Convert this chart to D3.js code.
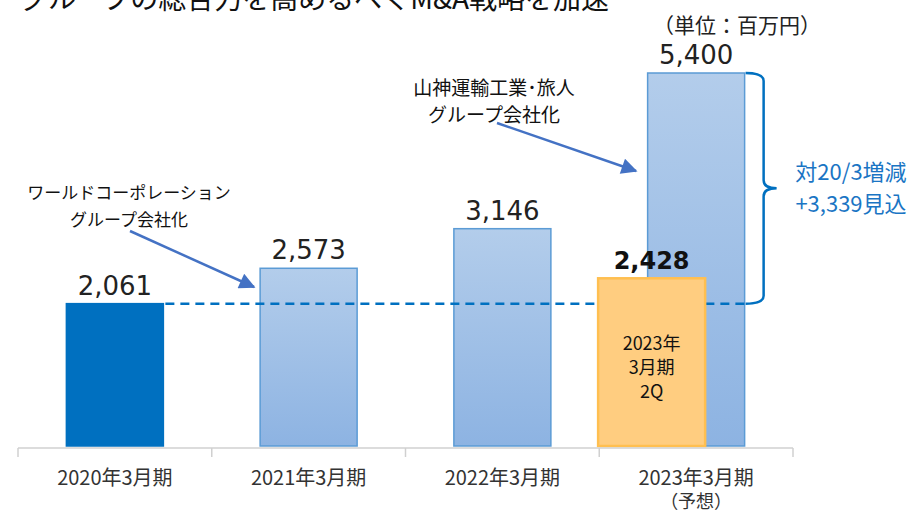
<!DOCTYPE html>
<html>
<head>
<meta charset="utf-8">
<script src="https://cdn.jsdelivr.net/npm/d3@7"></script>
<style>
  body { margin: 0; background: #fff; }
  svg { display: block; font-family: "Noto Sans CJK JP", sans-serif; }
</style>
</head>
<body>
<div id="chart"></div>
<script>
// data
var categories = ["2020年3月期", "2021年3月期", "2022年3月期", "2023年3月期"];
var subLabels = ["", "", "", "（予想）"];
var values = [2061, 2573, 3146, 5400];
var midValue = 2428;              // 2023年3月期 2Q actual
var midLines = ["2023年", "3月期", "2Q"];
var baseValue = 2061;             // reference line (20/3)
var diffLines = ["対20/3増減", "+3,339見込"];

function init() {
    var w = 924;
    var h = 514;

    var svg = d3.select("#chart")
                .append("svg")
                .attr("width", w)
                .attr("height", h);

    var defs = svg.append("defs");
    var grad = defs.append("linearGradient")
                .attr("id", "lightBlue")
                .attr("x1", 0).attr("y1", 0).attr("x2", 0).attr("y2", 1);
    grad.append("stop").attr("offset", "0%").attr("stop-color", "#B3CDEB");
    grad.append("stop").attr("offset", "100%").attr("stop-color", "#8DB3E2");

    defs.append("marker")
        .attr("id", "arrow")
        .attr("viewBox", "0 0 10 10")
        .attr("refX", 9).attr("refY", 5)
        .attr("markerUnits", "userSpaceOnUse")
        .attr("orient", "auto")
        .attr("markerWidth", 20).attr("markerHeight", 16)
        .append("path")
        .attr("d", "M0,0 L10,5 L0,10 Z")
        .attr("fill", "#4472C4");

    // scales
    var x = d3.scaleBand()
                .domain(categories)
                .range([18, 793])
                .paddingInner(0)
                .paddingOuter(0);

    var y = d3.scaleLinear()
                .domain([0, 5400])
                .range([446, 73]);

    var barW = 97;

    // title (cut at top edge)
    svg.append("text")
        .attr("x", 20)
        .attr("y", 9)
        .style("font-size", "28px")
        .style("fill", "#111")
        .text("グループの総合力を高めるべくM&A戦略を加速");

    // unit
    svg.append("text")
        .attr("x", 737)
        .attr("y", 33)
        .attr("text-anchor", "middle")
        .style("font-size", "21px")
        .style("fill", "#222")
        .text("（単位：百万円）");

    // bars
    svg.selectAll("rect.bar")
        .data(values)
        .enter()
        .append("rect")
        .attr("class", "bar")
        .attr("x", function(d, i) { return x(categories[i]) + x.bandwidth() / 2 - barW / 2; })
        .attr("y", function(d) { return y(d); })
        .attr("width", barW)
        .attr("height", function(d) { return y(0) - y(d); })
        .style("fill", function(d, i) { return i === 0 ? "#0070C0" : "url(#lightBlue)"; })
        .style("stroke", function(d, i) { return i === 0 ? "#0070C0" : "#5B9BD5"; })
        .style("stroke-width", 1.5);

    // value labels
    svg.selectAll("text.val")
        .data(values)
        .enter()
        .append("text")
        .attr("class", "val")
        .attr("x", function(d, i) { return x(categories[i]) + x.bandwidth() / 2; })
        .attr("y", function(d) { return y(d) - 9; })
        .attr("text-anchor", "middle")
        .style("font-family", "'DejaVu Sans', sans-serif")
        .style("font-size", "26px")
        .style("fill", "#222")
        .text(function(d) { return d3.format(",")(d); });

    // dashed reference line
    var last = categories[3];
    svg.append("line")
        .attr("x1", x(categories[0]) + x.bandwidth() / 2 + barW / 2 + 2)
        .attr("x2", x(last) + x.bandwidth() / 2 + barW / 2)
        .attr("y1", y(baseValue))
        .attr("y2", y(baseValue))
        .style("stroke", "#0070C0")
        .style("stroke-width", 2.5)
        .style("stroke-dasharray", "9,6");

    // orange 2Q bar
    var mx = x(last) + x.bandwidth() / 2 - 98;
    var mW = 107;
    svg.append("rect")
        .attr("x", mx)
        .attr("y", y(midValue))
        .attr("width", mW)
        .attr("height", y(0) - y(midValue))
        .style("fill", "#FFCD80")
        .style("stroke", "#FFBF50")
        .style("stroke-width", 2.5);

    svg.append("text")
        .attr("x", mx + mW / 2)
        .attr("y", y(midValue) - 9)
        .attr("text-anchor", "middle")
        .style("font-family", "'DejaVu Sans', sans-serif")
        .style("font-weight", "bold")
        .style("font-size", "24px")
        .style("fill", "#111")
        .text(d3.format(",")(midValue));

    svg.selectAll("text.mid")
        .data(midLines)
        .enter()
        .append("text")
        .attr("class", "mid")
        .attr("x", mx + mW / 2)
        .attr("y", function(d, i) { return 350 + i * 24; })
        .attr("text-anchor", "middle")
        .style("font-size", "18px")
        .style("fill", "#111")
        .text(function(d) { return d; });

    // axis
    var axis = svg.append("g")
        .attr("transform", "translate(0," + 448 + ")");
    axis.append("line")
        .attr("x1", 18).attr("x2", 793)
        .style("stroke", "#D0D0D0").style("stroke-width", 1.5);
    axis.selectAll("line.tick")
        .data(categories.concat(["end"]))
        .enter()
        .append("line")
        .attr("class", "tick")
        .attr("x1", function(d, i) { return 18 + i * x.bandwidth(); })
        .attr("x2", function(d, i) { return 18 + i * x.bandwidth(); })
        .attr("y1", 0).attr("y2", 9)
        .style("stroke", "#D0D0D0").style("stroke-width", 1.5);

    svg.selectAll("text.cat")
        .data(categories)
        .enter()
        .append("text")
        .attr("class", "cat")
        .attr("x", function(d) { return x(d) + x.bandwidth() / 2; })
        .attr("y", 485)
        .attr("text-anchor", "middle")
        .style("font-size", "20px")
        .style("fill", "#333")
        .text(function(d) { return d; });

    svg.selectAll("text.sub")
        .data(subLabels)
        .enter()
        .append("text")
        .attr("class", "sub")
        .attr("x", function(d, i) { return x(categories[i]) + x.bandwidth() / 2; })
        .attr("y", 508)
        .attr("text-anchor", "middle")
        .style("font-size", "18px")
        .style("fill", "#333")
        .text(function(d) { return d; });

    // annotations
    function note(lines, cx, cy, fs) {
        svg.selectAll(null)
            .data(lines)
            .enter()
            .append("text")
            .attr("x", cx)
            .attr("y", function(d, i) { return cy + i * 27; })
            .attr("text-anchor", "middle")
            .style("font-size", fs + "px")
            .style("fill", "#111")
            .text(function(d) { return d; });
    }
    note(["ワールドコーポレーション", "グループ会社化"], 129, 199, 17);
    note(["山神運輸工業･旅人", "グループ会社化"], 494, 95, 19);

    svg.append("line")
        .attr("x1", 130).attr("y1", 231)
        .attr("x2", 254).attr("y2", 287)
        .style("stroke", "#4472C4").style("stroke-width", 2.5)
        .attr("marker-end", "url(#arrow)");
    svg.append("line")
        .attr("x1", 497).attr("y1", 123)
        .attr("x2", 636).attr("y2", 171)
        .style("stroke", "#4472C4").style("stroke-width", 2.5)
        .attr("marker-end", "url(#arrow)");

    // brace on the right of the forecast bar
    var bx = x(last) + x.bandwidth() / 2 + barW / 2 + 1;
    var top = y(values[3]), bot = y(baseValue), mid = (top + bot) / 2;
    var bw = 18, r = 8;
    svg.append("path")
        .attr("d",
            "M" + bx + "," + top +
            " Q" + (bx + bw) + "," + top + " " + (bx + bw) + "," + (top + r) +
            " L" + (bx + bw) + "," + (mid - r) +
            " Q" + (bx + bw) + "," + mid + " " + (bx + bw + 13) + "," + mid +
            " Q" + (bx + bw) + "," + mid + " " + (bx + bw) + "," + (mid + r) +
            " L" + (bx + bw) + "," + (bot - r) +
            " Q" + (bx + bw) + "," + bot + " " + bx + "," + bot)
        .style("fill", "none")
        .style("stroke", "#0070C0")
        .style("stroke-width", 2.5);

    svg.selectAll("text.diff")
        .data(diffLines)
        .enter()
        .append("text")
        .attr("class", "diff")
        .attr("x", 851)
        .attr("y", function(d, i) { return 180 + i * 32; })
        .attr("text-anchor", "middle")
        .style("font-size", "22px")
        .style("fill", "#1A75C4")
        .text(function(d) { return d; });
}

window.onload = init;
</script>
</body>
</html>
